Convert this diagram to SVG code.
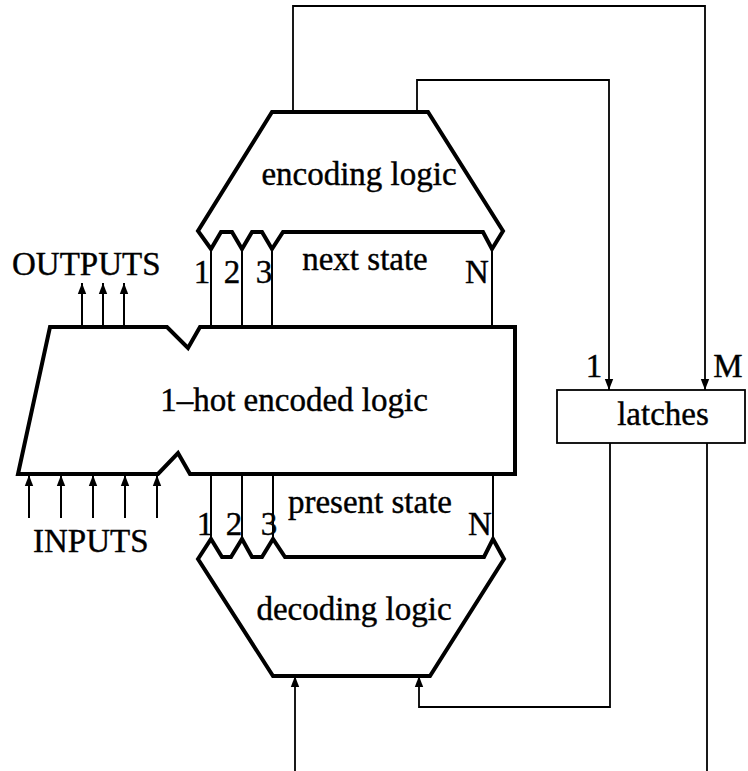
<svg xmlns="http://www.w3.org/2000/svg" width="748" height="771" viewBox="0 0 748 771">
<style>
.shape{fill:#fff;stroke:#000;stroke-width:4;stroke-linejoin:miter}
.wire{fill:none;stroke:#000;stroke-width:2}
.thin{fill:none;stroke:#000;stroke-width:1.8}
text{font-family:"Liberation Serif","Times New Roman",serif;font-size:33px;fill:#000;stroke:#000;stroke-width:0.4}
.m{text-anchor:middle}
</style>
<defs>
<marker id="ah" viewBox="0 0 10 10" refX="10" refY="5" markerWidth="11" markerHeight="11" markerUnits="userSpaceOnUse" orient="auto">
<path d="M0,1.2 L10,5 L0,8.8 Z" fill="#000"/>
</marker>
</defs>
<rect width="748" height="771" fill="#fff"/>

<g id="connectors">
<line class="wire" x1="211" y1="249" x2="211" y2="327"/>
<line class="wire" x1="242" y1="249" x2="242" y2="327"/>
<line class="wire" x1="272" y1="249" x2="272" y2="327"/>
<line class="wire" x1="492" y1="249" x2="492" y2="327"/>
<line class="wire" x1="211" y1="474" x2="211" y2="539"/>
<line class="wire" x1="242" y1="474" x2="242" y2="539"/>
<line class="wire" x1="273" y1="474" x2="273" y2="539"/>
<line class="wire" x1="493" y1="474" x2="493" y2="539"/>
<polyline class="thin" points="293,112 293,6 705,6 705,390" marker-end="url(#ah)"/>
<polyline class="thin" points="417,112 417,80 609,80 609,390" marker-end="url(#ah)"/>
<polyline class="thin" points="610,443 610,707 419,707 419,676" marker-end="url(#ah)"/>
<line class="thin" x1="707" y1="443" x2="707" y2="771"/>
<line class="thin" x1="295" y1="771" x2="295" y2="676" marker-end="url(#ah)"/>
<line class="wire" x1="82" y1="327" x2="82" y2="283" marker-end="url(#ah)"/>
<line class="wire" x1="103" y1="327" x2="103" y2="283" marker-end="url(#ah)"/>
<line class="wire" x1="124" y1="327" x2="124" y2="283" marker-end="url(#ah)"/>
<line class="wire" x1="29" y1="518" x2="29" y2="475" marker-end="url(#ah)"/>
<line class="wire" x1="61" y1="518" x2="61" y2="475" marker-end="url(#ah)"/>
<line class="wire" x1="93" y1="518" x2="93" y2="475" marker-end="url(#ah)"/>
<line class="wire" x1="125" y1="518" x2="125" y2="475" marker-end="url(#ah)"/>
<line class="wire" x1="157" y1="518" x2="157" y2="475" marker-end="url(#ah)"/>
</g>

<g id="encoding">
<polygon class="shape" points="272,112 428,112 503,231 492,249 483,232 283,232 272,249 262,232 252,232 242,249 232,232 221,232 211,249 198,231"/>
<text class="m" x="359" y="185">encoding logic</text>
</g>

<g id="next-state">
<text class="m" x="365" y="270">next state</text>
<text class="m" x="202" y="283">1</text>
<text class="m" x="232" y="283">2</text>
<text class="m" x="264" y="283">3</text>
<text class="m" x="477" y="283">N</text>
</g>

<g id="hot-logic">
<polygon class="shape" points="50,327 167,327 188,348 200,327 515,327 515,474 190,474 178,453 158,474 18,474"/>
<text class="m" x="294" y="411">1–hot encoded logic</text>
</g>

<g id="outputs">
<text x="12" y="275">OUTPUTS</text>
</g>

<g id="inputs">
<text x="33" y="552">INPUTS</text>
</g>

<g id="present-state">
<text class="m" x="370" y="513">present state</text>
<text class="m" x="205" y="535">1</text>
<text class="m" x="234" y="535">2</text>
<text class="m" x="269" y="535">3</text>
<text class="m" x="480" y="535">N</text>
</g>

<g id="decoding">
<polygon class="shape" points="198,559 211,539 222,557 231,557 242,539 252,557 262,557 273,539 285,557 484,557 493,539 504,559 430,676 273,676"/>
<text class="m" x="354" y="620">decoding logic</text>
</g>

<g id="latches">
<rect x="557" y="390" width="188" height="53" fill="#fff" stroke="#000" stroke-width="1.8"/>
<text class="m" x="663" y="425">latches</text>
<text class="m" x="594" y="377">1</text>
<text class="m" x="728" y="377">M</text>
</g>
</svg>
